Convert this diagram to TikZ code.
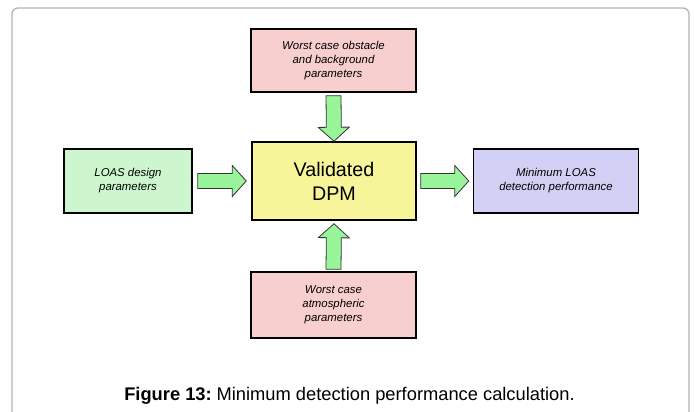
\documentclass[tikz,border=0pt]{standalone}
\usepackage{fontspec}
\setmainfont{Liberation Sans}
\usetikzlibrary{calc}
\definecolor{pinkbox}{HTML}{F7CFCF}
\definecolor{greenbox}{HTML}{CEF6CE}
\definecolor{yellowbox}{HTML}{F6F59A}
\definecolor{lavbox}{HTML}{D2D0F5}
\definecolor{arrgreen}{HTML}{99F599}
\definecolor{framegray}{HTML}{B4B4B4}
\tikzset{
  box/.style={draw=black, line width=1.5pt, rectangle, align=center, inner sep=0pt,
    font=\itshape\fontsize{11.4}{14}\selectfont},
  fat/.style={fill=arrgreen, draw=black!80, line width=0.8pt, line join=miter,
    to path={
      coordinate (fs) (\tikztotarget) coordinate (ft)
      ($(ft)!14pt!(fs)$) coordinate (fh)
      ($(fs)!7.5pt!90:(ft)$) -- ($(fh)!7.5pt!-90:(fs)$) -- ($(fh)!15.5pt!-90:(fs)$)
      -- (ft) -- ($(fh)!15.5pt!90:(fs)$) -- ($(fh)!7.5pt!90:(fs)$)
      -- ($(fs)!7.5pt!-90:(ft)$) -- cycle
    }},
}
\begin{document}
\begin{tikzpicture}[x=1pt,y=-1pt]
\useasboundingbox (0,0) rectangle (694,412);
\fill[white] (0,0) rectangle (694,412);
\draw[framegray, line width=1.3pt, rounded corners=6pt] (12,420) -- (12,8) -- (689,8) -- (689,420);

\node[box, fill=pinkbox, minimum width=165pt, minimum height=63pt] (top) at (333.5,60.5)
  {Worst case obstacle\\and background\\parameters};
\node[box, fill=yellowbox, minimum width=164pt, minimum height=78pt,
  font=\fontsize{19.7}{24}\selectfont] (dpm) at (334,181) {Validated\\DPM};
\node[box, fill=pinkbox, minimum width=165pt, minimum height=66pt] (bot) at (333.5,305)
  {Worst case\\atmospheric\\parameters};
\node[box, fill=greenbox, minimum width=128pt, minimum height=64pt] (ldp) at (128,181)
  {LOAS design\\parameters};
\node[box, fill=lavbox, minimum width=165pt, minimum height=64pt] (rmp) at (556,181)
  {Minimum LOAS\\detection performance};

\path[fat] ($(top.south)+(0,3)$) to (dpm.north);
\path[fat] ($(bot.north)+(0,-2)$) to ($(dpm.south)+(0,3)$);
\path[fat] ($(ldp.east)+(5,0)$) to ($(dpm.west)+(-5,0)$);
\path[fat] ($(dpm.east)+(4,0)$) to ($(rmp.west)+(-4,0)$);

\node[font=\fontsize{18.3}{22}\selectfont, inner sep=0pt] (cap) at (349.5,396)
  {\textbf{Figure 13:}\hspace{0.27em}Minimum detection performance calculation.};
\end{tikzpicture}
\end{document}
